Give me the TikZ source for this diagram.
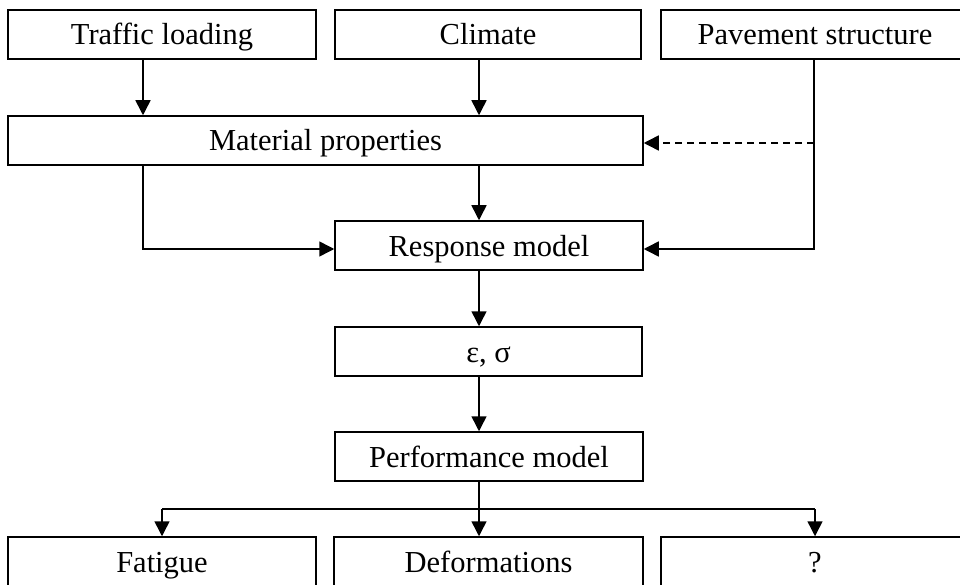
\documentclass[tikz,border=0pt]{standalone}
\usepackage{fontspec}
\setmainfont{Liberation Serif}
\usetikzlibrary{arrows.meta}
\begin{document}
\begin{tikzpicture}[x=1pt,y=-1pt,
  box/.style={draw,line width=1.5pt,minimum height=49pt,inner sep=0pt,font=\fontsize{30.5}{32}\selectfont,text height=22pt,text depth=1pt},
  arr/.style={line width=1.5pt,-{Triangle[length=15pt,width=15pt]}},
  dasharr/.style={arr,dash pattern=on 7pt off 5pt}]
\useasboundingbox (0,0) rectangle (960,585);
\clip (0,0) rectangle (960,585);
\node[box,minimum width=308pt] (traffic) at (162,34.5) {Traffic loading};
\node[box,minimum width=306pt] (climate) at (488,34.5) {Climate};
\node[box,minimum width=308pt] (pave) at (815,34.5) {Pavement structure};
\node[box,minimum width=635pt] (mat) at (325.5,140.5) {Material properties};
\node[box,minimum width=308pt] (resp) at (489,245.5) {Response model};
\node[box,minimum width=307pt] (eps) at (488.5,351.5) {ε, σ};
\node[box,minimum width=308pt] (perf) at (489,456.5) {Performance model};
\node[box,minimum width=308pt] (fat) at (162,561.5) {Fatigue};
\node[box,minimum width=309pt] (def) at (488.5,561.5) {Deformations};
\node[box,minimum width=308pt] (q) at (815,561.5) {?};
\coordinate (xa) at (143,249);
\coordinate (xc) at (479,143);
\coordinate (xp) at (814,249);
\coordinate (split) at (479,509);
\coordinate (xf) at (162,509);
\coordinate (xq) at (815,509);
\draw[arr] (traffic.south -| xa) -- (mat.north -| xa);
\draw[arr] (climate.south -| xc) -- (mat.north -| xc);
\draw[arr] (mat.south -| xc) -- (resp.north -| xc);
\draw[arr] (mat.south -| xa) -- (xa) -- (resp.west |- xa);
\draw[arr] (pave.south -| xp) -- (xp) -- (resp.east |- xp);
\draw[dasharr] (xp |- xc) -- (mat.east |- xc);
\draw[arr] (resp.south -| xc) -- (eps.north -| xc);
\draw[arr] (eps.south -| xc) -- (perf.north -| xc);
\draw[line width=1.5pt] (perf.south -| xc) -- (split);
\draw[arr] (split) -- (def.north -| split);
\draw[arr] (xf) -- (fat.north -| xf);
\draw[arr] (xq) -- (q.north -| xq);
\draw[line width=1.5pt] (xf) -- (xq);
\end{tikzpicture}
\end{document}
